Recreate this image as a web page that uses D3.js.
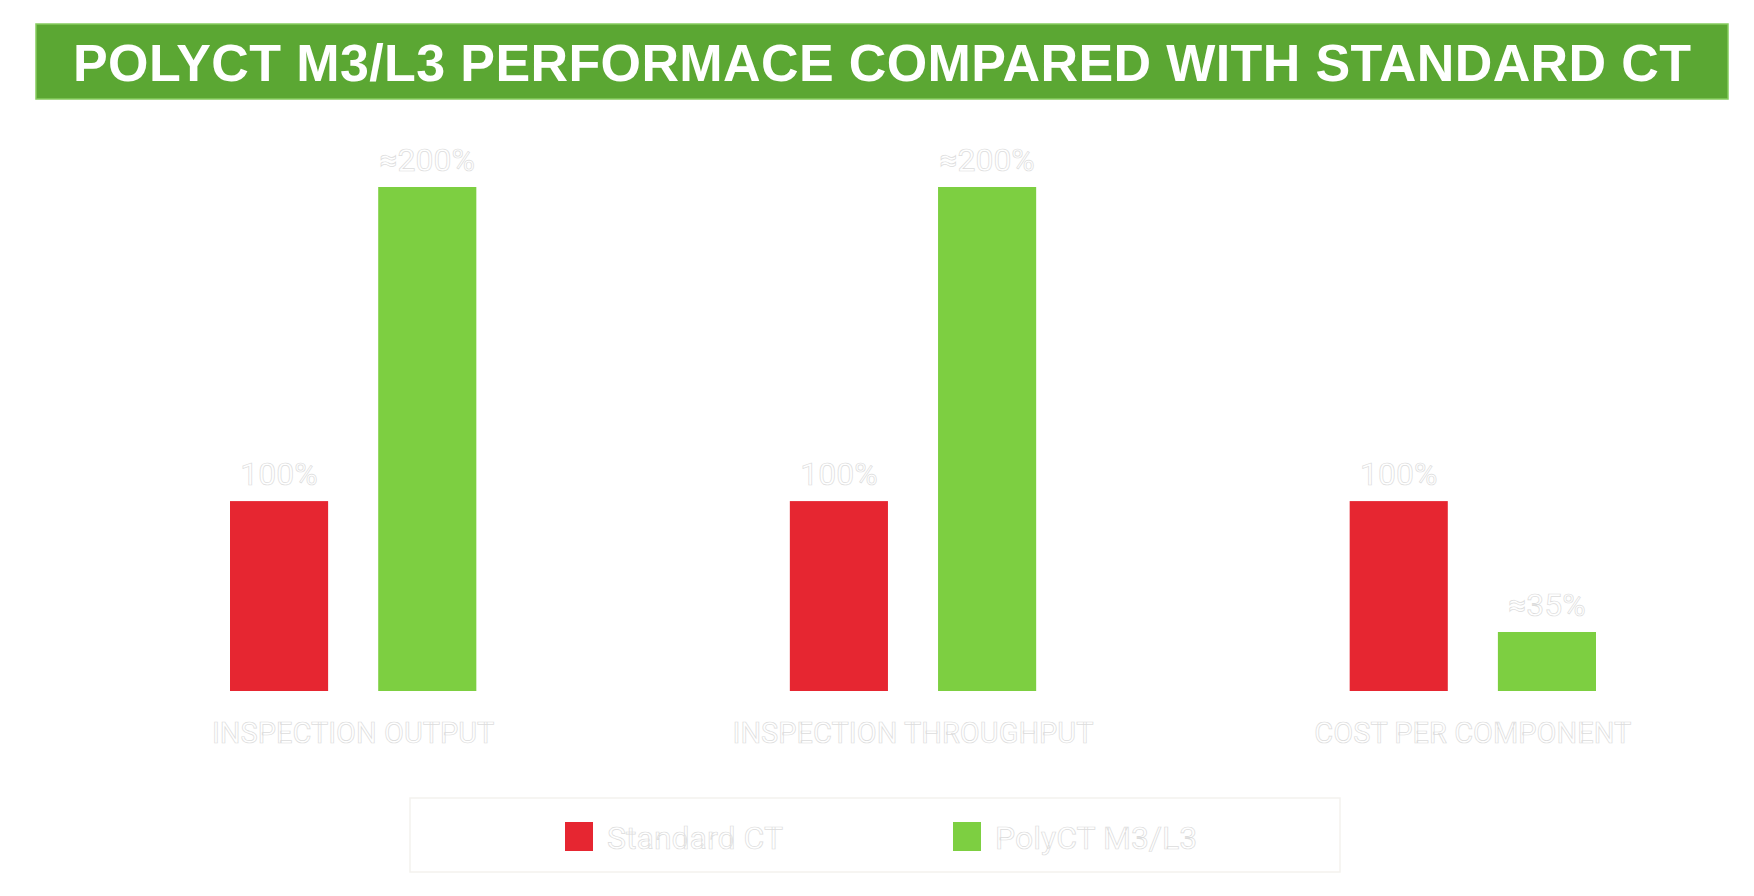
<!DOCTYPE html>
<html>
<head>
<meta charset="utf-8">
<script src="https://cdn.jsdelivr.net/npm/d3@7"></script>
<style>
  body { margin: 0; background: #fff; }
  svg { display: block; }
  .ghost { fill: #fff; stroke: #dcdcdc; stroke-width: 0.7px; }
</style>
</head>
<body>
<svg id="chart"></svg>
<script>
const w = 1754;
const h = 896;

const title = "POLYCT M3/L3 PERFORMACE COMPARED WITH STANDARD CT";
const categories = ["INSPECTION OUTPUT", "INSPECTION THROUGHPUT", "COST PER COMPONENT"];
const seriesNames = ["Standard CT", "PolyCT M3/L3"];
const standardCT = [100, 100, 100];
const polyCT = [200, 200, 35];
const standardLabels = ["100%", "100%", "100%"];
const polyLabels = ["≈200%", "≈200%", "≈35%"];
const colors = ["#e62631", "#7dcf41"];

const baseline = 691;

let svg = d3.select("#chart")
            .attr("width", w)
            .attr("height", h);

// title bar
svg.append("rect")
   .attr("x", 36).attr("y", 24)
   .attr("width", 1692).attr("height", 75)
   .attr("fill", "#5ba733")
   .attr("stroke", "#86cc5f")
   .attr("stroke-width", 1.5);

svg.append("text")
   .attr("x", 882).attr("y", 81)
   .attr("text-anchor", "middle")
   .attr("textLength", 1618)
   .attr("lengthAdjust", "spacing")
   .style("font-family", "Liberation Sans, Arial, sans-serif")
   .style("font-weight", 700)
   .style("font-size", "52px")
   .style("fill", "#fff")
   .text(title);

// scales
let x0 = d3.scaleBand()
           .domain(categories)
           .range([230, 1596])
           .paddingInner(0.56);

let x1 = d3.scaleBand()
           .domain(seriesNames)
           .range([0, x0.bandwidth()])
           .paddingInner(0.338);

// heights in the picture are not proportional, a pow scale follows them
let y = d3.scalePow()
          .exponent(1.55)
          .domain([0, 200])
          .range([baseline - 27, 187]);

let rows = categories.map((c, i) => ({
  cat: c,
  vals: [
    { s: seriesNames[0], v: standardCT[i], label: standardLabels[i], color: colors[0] },
    { s: seriesNames[1], v: polyCT[i], label: polyLabels[i], color: colors[1] }
  ]
}));

let groups = svg.selectAll("g.grp")
                .data(rows)
                .enter()
                .append("g")
                .attr("class", "grp")
                .attr("transform", d => `translate(${x0(d.cat)},0)`);

groups.selectAll("rect")
      .data(d => d.vals)
      .enter()
      .append("rect")
      .attr("x", d => x1(d.s))
      .attr("y", d => y(d.v))
      .attr("width", x1.bandwidth())
      .attr("height", d => baseline - y(d.v))
      .attr("fill", d => d.color);

groups.selectAll("text.val")
      .data(d => d.vals)
      .enter()
      .append("text")
      .attr("class", "val ghost")
      .attr("x", d => x1(d.s) + x1.bandwidth() / 2)
      .attr("y", d => y(d.v) - 16)
      .attr("text-anchor", "middle")
      .style("font-family", "Roboto, sans-serif")
      .style("font-size", "32px")
      .text(d => d.label);

// category labels
svg.selectAll("text.cat")
   .data(categories)
   .enter()
   .append("text")
   .attr("class", "cat ghost")
   .attr("x", d => x0(d) + x0.bandwidth() / 2)
   .attr("y", 743)
   .attr("text-anchor", "middle")
   .style("font-family", "Roboto, sans-serif")
   .style("font-size", "29px")
   .text(d => d);

// legend
svg.append("rect")
   .attr("x", 410).attr("y", 798)
   .attr("width", 930).attr("height", 74)
   .attr("fill", "#fff")
   .attr("stroke", "#f4f2ee")
   .attr("stroke-width", 1.5);

let legend = svg.selectAll("g.leg")
                .data(seriesNames)
                .enter()
                .append("g")
                .attr("class", "leg")
                .attr("transform", (d, i) => `translate(${565 + i * 388},822)`);

legend.append("rect")
      .attr("width", 28).attr("height", 29)
      .attr("fill", (d, i) => colors[i]);

legend.append("text")
      .attr("class", "ghost")
      .attr("x", 42).attr("y", 27)
      .style("font-family", "Roboto, sans-serif")
      .style("font-size", "32px")
      .text(d => d);
</script>
</body>
</html>
